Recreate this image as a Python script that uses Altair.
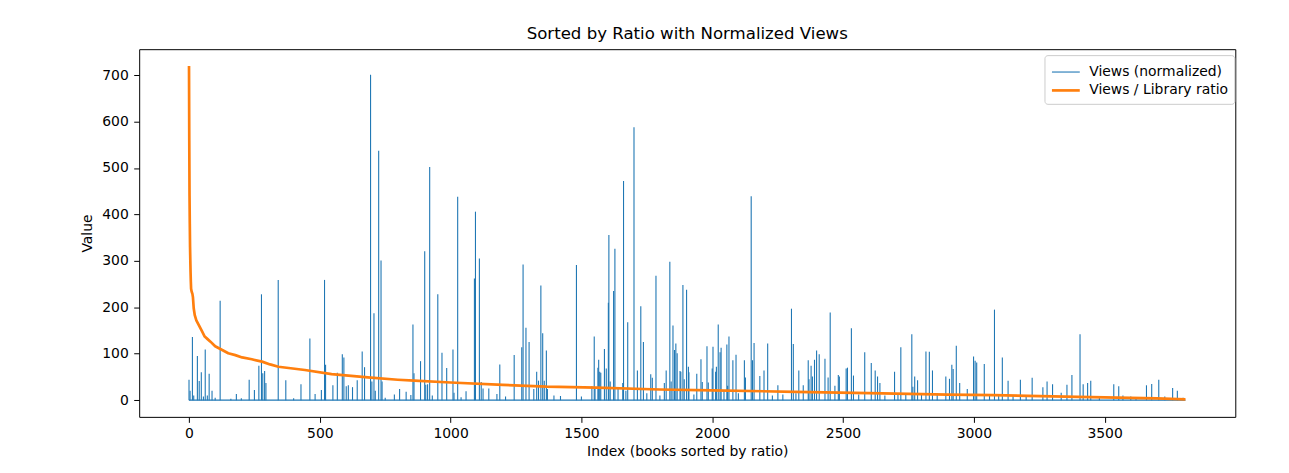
import altair as alt
import pandas as pd

S1 = "Views (normalized)"
S2 = "Views / Library ratio"

# Views (normalized): spike positions and heights
views_idx = [0, 4, 13, 18, 32, 39, 47, 55, 62, 70, 77, 88, 100, 119, 160, 181, 200, 230, 250,
             267, 277, 282, 289, 294, 341, 370, 400, 428, 462, 482, 506, 518, 522, 550, 567,
             586, 592, 601, 609, 625, 643, 662, 671, 694, 699, 707, 712, 725, 734, 738, 750,
             785, 805, 830, 848, 856, 860,
             885, 901, 905, 912, 920, 930, 951, 967, 985, 1009, 1013, 1027, 1040, 1059, 1091,
             1095, 1110, 1117, 1124, 1146, 1177, 1188, 1210, 1243, 1272, 1277, 1288, 1300, 1318,
             1329, 1336, 1345, 1352, 1358, 1366, 1370, 1395, 1420, 1481, 1500,
             1540, 1549, 1552, 1563, 1566, 1570, 1574, 1588, 1595, 1603, 1605, 1610, 1623, 1628,
             1640, 1658, 1661, 1670, 1677, 1701, 1714, 1727, 1737, 1750, 1765, 1771, 1785, 1800,
             1817, 1824, 1838, 1843, 1850, 1856, 1861, 1866, 1877, 1880, 1888, 1893, 1902, 1909,
             1911, 1930, 1941, 1957, 1962, 1980, 1985, 2000, 2003, 2013, 2016, 2023, 2030, 2034,
             2045, 2056, 2059, 2064, 2079, 2091, 2100, 2123, 2127, 2149, 2154, 2160, 2182, 2198,
             2212, 2230, 2251, 2270,
             2303, 2310, 2320, 2331, 2348, 2367, 2370, 2378, 2383, 2391, 2399, 2409, 2431, 2443,
             2451, 2469, 2482, 2486, 2512, 2517, 2532, 2540, 2560, 2583, 2608, 2623, 2632, 2641,
             2660, 2697, 2710, 2721, 2740, 2763, 2767, 2774, 2785, 2800, 2817, 2830, 2842, 2860,
             2893, 2907, 2916, 2921, 2933, 2946, 2975,
             2999, 3005, 3011, 3040, 3060, 3079, 3095, 3109, 3131, 3150, 3178, 3200, 3223, 3264,
             3280, 3301, 3334, 3356, 3375, 3406, 3418, 3435, 3447, 3480, 3535, 3554, 3570, 3600,
             3620, 3660, 3680, 3707, 3730, 3760, 3778, 3800]
views_val = [44, 20, 136, 10, 95, 41, 60, 8, 109, 10, 57, 20, 5, 214, 3, 13, 4, 44, 22,
             74, 228, 58, 63, 37, 259, 43, 4, 34, 133, 13, 22, 259, 76, 32, 59,
             99, 92, 30, 32, 28, 43, 105, 71, 701, 40, 187, 20, 537, 301, 40, 5,
             12, 24, 18, 11, 163, 58,
             84, 321, 33, 34, 502, 10, 228, 102, 69, 109, 16, 438, 6, 19, 262,
             406, 305, 39, 25, 25, 13, 77, 8, 97, 114, 292, 156, 125, 24,
             61, 42, 247, 144, 42, 107, 24, 10, 9, 291, 8,
             30, 137, 27, 70, 87, 61, 59, 110, 68, 210, 356, 40, 235, 326,
             25, 37, 472, 20, 168, 588, 64, 202, 125, 15, 56, 48, 268, 10,
             37, 64, 298, 40, 161, 108, 122, 101, 63, 61, 248, 45, 238, 72,
             60, 12, 57, 88, 39, 116, 38, 68, 115, 61, 72, 163, 103, 113,
             20, 120, 31, 137, 86, 98, 15, 86, 49, 439, 86, 123, 52, 64,
             122, 10, 32, 12,
             197, 121, 15, 64, 32, 86, 45, 74, 51, 87, 107, 99, 89, 49,
             189, 31, 54, 51, 68, 70, 155, 53, 12, 103, 80, 64, 51, 37,
             10, 61, 15, 114, 12, 142, 29, 51, 43, 15, 105, 104, 64, 15,
             51, 46, 76, 67, 117, 37, 24,
             94, 85, 81, 78, 10, 195, 12, 92, 42, 10, 44, 8, 48, 28,
             40, 34, 16, 33, 54, 142, 34, 37, 42, 8, 34, 30, 10, 8,
             6, 32, 35, 44, 8, 26, 20, 5]

# Views / Library ratio (sorted descending)
ratio_idx = [0, 1, 2, 3, 4, 5, 6, 7, 8, 10, 13, 15, 18, 22, 28, 38, 50, 60, 70, 82, 100, 127,
             150, 177, 203, 240, 279, 310, 342, 443, 545, 684, 798, 861, 1000, 1200, 1366, 1557,
             1800, 2000, 2317, 2600, 2900, 3076, 3300, 3500, 3700, 3809]
ratio_val = [720, 560, 440, 380, 330, 300, 275, 255, 240, 234, 229, 222, 198, 183, 172, 161, 148,
             137, 132, 126, 116, 108, 101, 97, 92, 88, 83, 77, 72, 65, 56, 49, 44, 42, 38, 33, 29,
             27, 23, 21, 18, 15, 12, 11, 8, 6, 4, 1.5]

x_ticks = [0, 500, 1000, 1500, 2000, 2500, 3000, 3500]
y_ticks = [0, 100, 200, 300, 400, 500, 600, 700]

views_df = pd.DataFrame({"idx": views_idx, "value": views_val, "series": S1})
views_df["base"] = 0
ratio_df = pd.DataFrame({"idx": ratio_idx, "value": ratio_val, "series": S2})
base_df = pd.DataFrame({"start": [min(views_idx)], "end": [ratio_idx[-1]], "zero": [0]})

FONT = "DejaVu Sans"
xscale = alt.Scale(domain=[-190.5, 3999.5], nice=False, zero=False)
yscale = alt.Scale(domain=[-36, 756], nice=False, zero=False)
xaxis = alt.Axis(values=x_ticks, title="Index (books sorted by ratio)", grid=False, domain=False,
                 tickSize=5.5, tickColor="black", labelPadding=4, titlePadding=4, format="d")
yaxis = alt.Axis(values=y_ticks, title="Value", grid=False, domain=False, tickSize=5.5,
                 tickColor="black", labelPadding=5.5, titlePadding=7, format="d")

color = alt.Color("series:N",
                  scale=alt.Scale(domain=[S1, S2], range=["#1f77b4", "#ff7f0e"]),
                  legend=alt.Legend(title=None))
width_enc = alt.StrokeWidth("series:N",
                            scale=alt.Scale(domain=[S1, S2], range=[1.1, 2.7]),
                            legend=alt.Legend(title=None))

baseline = alt.Chart(base_df).mark_rule(color="#1f77b4", strokeWidth=1.4).encode(
    x=alt.X("start:Q", scale=xscale, axis=xaxis),
    x2="end:Q",
    y=alt.Y("zero:Q", scale=yscale, axis=yaxis),
)

spikes = alt.Chart(views_df).mark_rule().encode(
    x=alt.X("idx:Q", scale=xscale, axis=xaxis),
    y=alt.Y("value:Q", scale=yscale, axis=yaxis),
    y2="base:Q",
    color=color,
    strokeWidth=width_enc,
)

ratio_line = alt.Chart(ratio_df).mark_line(strokeJoin="round").encode(
    x=alt.X("idx:Q", scale=xscale, axis=xaxis),
    y=alt.Y("value:Q", scale=yscale, axis=yaxis),
    color=color,
    strokeWidth=width_enc,
)

chart = alt.layer(baseline, spikes, ratio_line).properties(
    width=1103,
    height=370,
    title=alt.TitleParams("Sorted by Ratio with Normalized Views", fontSize=16.7, font=FONT,
                          fontWeight="normal", color="black", offset=10, frame="group",
                          baseline="alphabetic", anchor="middle", dy=16),
    autosize=alt.AutoSizeParams(type="none"),
    padding={"left": 132, "top": 40, "right": 46, "bottom": 47},
).configure(font=FONT).configure_view(
    stroke="black", strokeWidth=1
).configure_axis(
    labelFont=FONT, labelFontSize=14, labelColor="black", titleFont=FONT, titleFontSize=14,
    titleColor="black", titleFontWeight="normal",
).configure_legend(
    orient="none", legendX=911, legendY=6, symbolType="M-1.4,0H1.4", symbolSize=400,
    padding=6, symbolOffset=4, labelOffset=12, rowPadding=0, labelFont=FONT, labelFontSize=14,
    labelColor="black", fillColor="white", strokeColor="#cccccc", cornerRadius=3,
)

chart.save("out.html", embed_options={"renderer": "svg", "actions": False})
